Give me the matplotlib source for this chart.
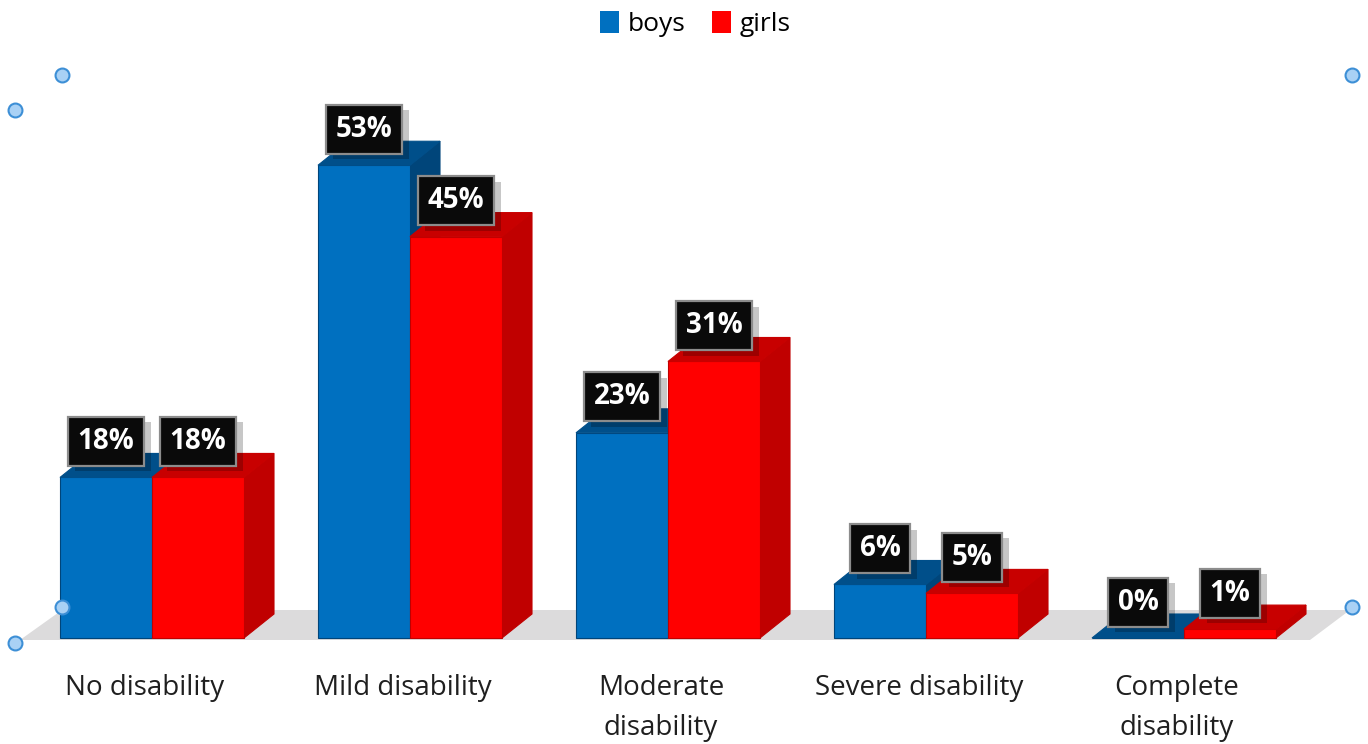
import matplotlib
matplotlib.use("Agg")
import matplotlib.pyplot as plt
from matplotlib.patches import Polygon, Patch
import matplotlib.patheffects as pe
import numpy as np

categories = ["No disability", "Mild disability", "Moderate\ndisability",
              "Severe disability", "Complete\ndisability"]
boys = [18, 53, 23, 6, 0]
girls = [18, 45, 31, 5, 1]
series_names = ["boys", "girls"]

BLUE, BLUE_TOP, BLUE_SIDE = "#0070c0", "#004f8a", "#00457a"
RED, RED_TOP, RED_SIDE = "#ff0000", "#c80000", "#c00000"
FLOOR = "#dcdbdc"

W, H = 1368, 744
fig = plt.figure(figsize=(W / 100, H / 100), dpi=100)
ax = fig.add_axes([0, 0, 1, 1])

# pixel-based mapping: x pixel = 152 + 258*i ; y pixel = 638 - 8.92*v
PX_PER_CAT = 258.0
PX_PER_PCT = 8.92
x_left = -152 / PX_PER_CAT
x_right = (W - 152) / PX_PER_CAT
y_bottom = -(H - 638) / PX_PER_PCT
y_top = 638 / PX_PER_PCT
ax.set_xlim(x_left, x_right)
ax.set_ylim(y_bottom, y_top)
ax.axis("off")

DX = 30 / PX_PER_CAT
DY = 24 / PX_PER_PCT
bw = 92 / PX_PER_CAT

# floor
fl = (-132 / PX_PER_CAT, -2 / PX_PER_PCT)
fr = (1158 / PX_PER_CAT, -2 / PX_PER_PCT)
br = (1198 / PX_PER_CAT, 28 / PX_PER_PCT)
bl = (-90 / PX_PER_CAT, 28 / PX_PER_PCT)
ax.add_patch(Polygon([fl, fr, br, bl], closed=True, fc=FLOOR, ec="none", zorder=1))

x = np.arange(len(categories))


def draw_box(x0, v, front, top, side, z):
    ax.add_patch(Polygon([(x0 + bw, 0), (x0 + bw + DX, DY), (x0 + bw + DX, v + DY), (x0 + bw, v)],
                         closed=True, fc=side, ec=side, lw=0.8, zorder=z))
    ax.bar(x0, v, width=bw, align="edge", color=front, edgecolor=side, linewidth=0.8, zorder=z + 0.1)
    ax.add_patch(Polygon([(x0, v), (x0 + bw, v), (x0 + bw + DX, v + DY), (x0 + DX, v + DY)],
                         closed=True, fc=top, ec=top, lw=0.8, zorder=z + 0.2))


for i in range(len(categories)):
    draw_box(x[i] - bw, boys[i], BLUE, BLUE_TOP, BLUE_SIDE, 2 + i)
    draw_box(x[i], girls[i], RED, RED_TOP, RED_SIDE, 2.5 + i)

label_off = 36 / PX_PER_PCT
for i in range(len(categories)):
    for xc, v in ((x[i] - bw / 2, boys[i]), (x[i] + bw / 2, girls[i])):
        t = ax.text(xc, v + label_off, f"{v}%", ha="center", va="center",
                    fontsize=20, fontweight="bold", family="Open Sans", color="white", zorder=20,
                    bbox=dict(boxstyle="square,pad=0.36", fc="#0a0a0a", ec="#8c8c8c", lw=1.6))
        t.get_bbox_patch().set_path_effects([
            pe.SimplePatchShadow(offset=(5, -4), shadow_rgbFace="#000000", alpha=0.22),
            pe.Normal()])

# category labels
LBL_FS = 20
for i, c in enumerate(categories):
    lines = c.split("\n")
    for k, line in enumerate(lines):
        ax.text(x[i] - 7 / PX_PER_CAT, -(695 + 40 * k - 638) / PX_PER_PCT, line, ha="center",
                va="baseline", fontsize=LBL_FS, family="Open Sans", color="#1f1f1f", zorder=5)

handles = [Patch(fc=BLUE, ec="none"), Patch(fc=RED, ec="none")]
fig.legend(handles, series_names, loc="center", bbox_to_anchor=(0.508, 0.968), ncol=2,
           frameon=False, handlelength=0.75, handleheight=0.95, handletextpad=0.3,
           columnspacing=1.0, prop=dict(family="Open Sans", size=19))

# chart-area selection handles
for px, py in [(62, 75), (15, 110), (62, 607), (15, 643), (1352, 75), (1352, 607)]:
    ax.plot([x_left + px / PX_PER_CAT], [(638 - py) / PX_PER_PCT], "o", ms=10, mfc="#a9d1f5",
            mec="#3d8fd6", mew=1.5, zorder=30, clip_on=False)

fig.savefig("out.png", dpi=100)
